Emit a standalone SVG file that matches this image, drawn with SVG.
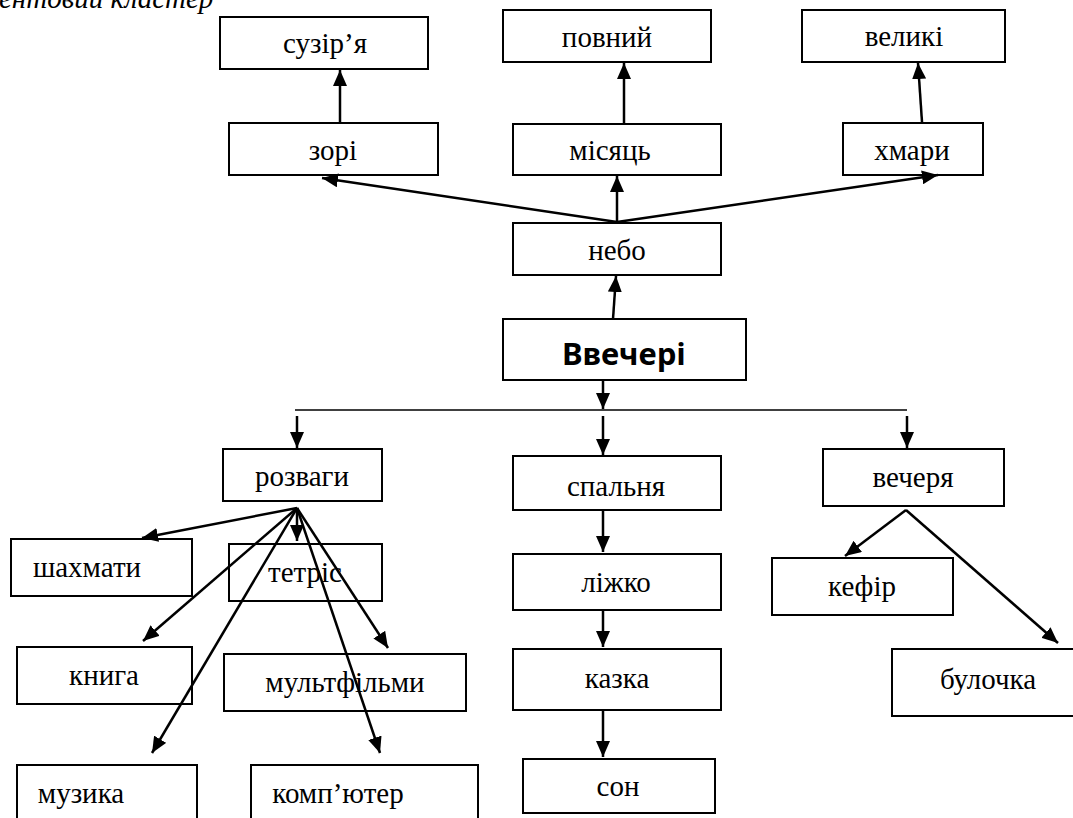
<svg xmlns="http://www.w3.org/2000/svg" width="1073" height="818" viewBox="0 0 1073 818">
<style>
.box{fill:#fff;stroke:#000;stroke-width:2}
.t{font-family:"Liberation Serif","Times New Roman",serif;font-size:29px;fill:#000;text-anchor:middle}
.main{font-family:"Noto Sans","Open Sans",sans-serif;font-size:31px;font-weight:bold;fill:#000;text-anchor:middle}
.title{font-family:"Liberation Serif","Times New Roman",serif;font-size:29px;font-style:italic;fill:#000}
.c{stroke:#000;stroke-width:2.5;fill:none;marker-end:url(#ah)}
.hl{stroke:#000;stroke-width:1.6;fill:none}
</style>
<defs>
<marker id="ah" viewBox="0 0 16 14" refX="16" refY="7" markerWidth="16" markerHeight="14" markerUnits="userSpaceOnUse" orient="auto">
<path d="M0,0 L16,7 L0,14 z" fill="#000"/>
</marker>
</defs>
<rect width="1073" height="818" fill="#fff"/>
<text class="title" x="-1" y="8">ентовий кластер</text>

<g id="n-suzirya"><rect class="box" x="220" y="17" width="208" height="52"/><text class="t" x="325" y="53">сузір’я</text></g>
<g id="n-povnyi"><rect class="box" x="503" y="10" width="208" height="52"/><text class="t" x="607" y="47">повний</text></g>
<g id="n-velyki"><rect class="box" x="802" y="10" width="203" height="52"/><text class="t" x="904" y="46">великі</text></g>
<g id="n-zori"><rect class="box" x="229" y="123" width="209" height="52"/><text class="t" x="333" y="160">зорі</text></g>
<g id="n-misyats"><rect class="box" x="513" y="124" width="208" height="51"/><text class="t" x="610" y="160">місяць</text></g>
<g id="n-khmary"><rect class="box" x="843" y="123" width="140" height="52"/><text class="t" x="912" y="160">хмари</text></g>
<g id="n-nebo"><rect class="box" x="513" y="223" width="208" height="52"/><text class="t" x="617" y="260">небо</text></g>
<g id="n-vvecheri"><rect class="box" x="503" y="319" width="243" height="61"/><text class="main" x="624" y="365">Ввечері</text></g>
<g id="n-rozvahy"><rect class="box" x="223" y="449" width="159" height="52"/><text class="t" x="302" y="486">розваги</text></g>
<g id="n-spalnia"><rect class="box" x="513" y="456" width="208" height="54"/><text class="t" x="616" y="496">спальня</text></g>
<g id="n-vecheria"><rect class="box" x="823" y="449" width="181" height="57"/><text class="t" x="913" y="487">вечеря</text></g>
<g id="n-shakhmaty"><rect class="box" x="11" y="539" width="181" height="57"/><text class="t" x="87" y="577">шахмати</text></g>
<g id="n-tetris"><rect class="box" x="229" y="544" width="153" height="57"/><text class="t" x="305" y="582">тетріс</text></g>
<g id="n-lizhko"><rect class="box" x="513" y="554" width="208" height="56"/><text class="t" x="616" y="592">ліжко</text></g>
<g id="n-kefir"><rect class="box" x="772" y="558" width="181" height="57"/><text class="t" x="862" y="596">кефір</text></g>
<g id="n-knyha"><rect class="box" x="17" y="647" width="175" height="57"/><text class="t" x="104" y="685">книга</text></g>
<g id="n-multfilmy"><rect class="box" x="224" y="654" width="242" height="57"/><text class="t" x="345" y="692">мультфільми</text></g>
<g id="n-kazka"><rect class="box" x="513" y="649" width="208" height="61"/><text class="t" x="617" y="688">казка</text></g>
<g id="n-bulochka"><rect class="box" x="892" y="649" width="185" height="67"/><text class="t" x="988" y="689">булочка</text></g>
<g id="n-son"><rect class="box" x="523" y="759" width="192" height="54"/><text class="t" x="618" y="796">сон</text></g>
<g id="n-muzyka"><rect class="box" x="17" y="765" width="180" height="70"/><text class="t" x="81" y="803">музика</text></g>
<g id="n-kompiuter"><rect class="box" x="251" y="765" width="227" height="70"/><text class="t" x="338" y="803">комп’ютер</text></g>

<g id="connectors">
<line class="c" x1="340" y1="123" x2="340" y2="70"/>
<line class="c" x1="624" y1="124" x2="624" y2="63"/>
<line class="c" x1="922" y1="122" x2="918" y2="63"/>
<line class="c" x1="617" y1="222" x2="322" y2="178"/>
<line class="c" x1="617" y1="222" x2="617" y2="176"/>
<line class="c" x1="617" y1="222" x2="938" y2="175"/>
<line class="c" x1="613" y1="319" x2="616" y2="276"/>
<line class="c" x1="603" y1="381" x2="603" y2="409"/>
<line class="hl" x1="295" y1="410" x2="907" y2="410"/>
<line class="c" x1="297" y1="416" x2="297" y2="448"/>
<line class="c" x1="603" y1="416" x2="603" y2="455"/>
<line class="c" x1="907" y1="416" x2="907" y2="448"/>
<line class="c" x1="297" y1="508" x2="142" y2="538"/>
<line class="c" x1="297" y1="508" x2="297" y2="541"/>
<line class="c" x1="297" y1="508" x2="143" y2="641"/>
<line class="c" x1="297" y1="508" x2="388" y2="648"/>
<line class="c" x1="297" y1="508" x2="152" y2="753"/>
<line class="c" x1="297" y1="508" x2="380" y2="753"/>
<line class="c" x1="603" y1="510" x2="603" y2="552"/>
<line class="c" x1="603" y1="610" x2="603" y2="647"/>
<line class="c" x1="603" y1="710" x2="603" y2="757"/>
<line class="c" x1="906" y1="510" x2="845" y2="556"/>
<line class="c" x1="906" y1="510" x2="1058" y2="643"/>
</g>
</svg>
